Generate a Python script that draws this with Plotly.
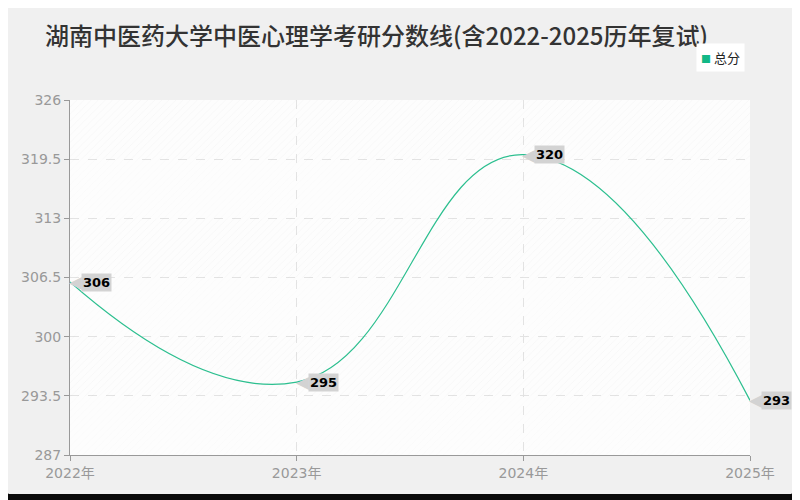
import plotly.graph_objects as go

# data
years = [2022, 2023, 2024, 2025]
scores = [306, 295, 320, 293]
year_labels = [f"{y}年" for y in years]
y_ticks = [287, 293.5, 300, 306.5, 313, 319.5, 326]
y_tick_labels = ["287", "293.5", "300", "306.5", "313", "319.5", "326"]

title = "湖南中医药大学中医心理学考研分数线(含2022-2025历年复试)"
series_name = "总分"

# the page has an 8px body margin, so the figure is 8px smaller each way
OFF = 8
W, H = 800 - OFF, 500 - OFF
M_L, M_R, M_T, M_B = 70 - OFF, 50, 100 - OFF, 45
LINE_COLOR = "#2cbf8f"
LEGEND_GREEN = "#12b886"
LABEL_BG = "#d3d3d3"
AXIS_GREY = "#999999"
CJK = "Noto Sans CJK SC"


def page_to_paper(px, py):
    """pixel position in the browser window -> paper coords of the plot area"""
    fx, fy = px - OFF, py - OFF
    pw = W - M_L - M_R
    ph = H - M_T - M_B
    return (fx - M_L) / pw, (H - M_B - fy) / ph


def p(x, y):
    ax, ay = page_to_paper(x, y)
    return f"{ax:.5f},{ay:.5f}"


def card_path(x0, y0, x1, y1, r):
    # rounded card, with the plot area cut out (evenodd) so the plot bg shows
    card = " ".join([
        f"M{p(x0 + r, y0)}", f"L{p(x1 - r, y0)}", f"Q{p(x1, y0)} {p(x1, y0 + r)}",
        f"L{p(x1, y1 - r)}", f"Q{p(x1, y1)} {p(x1 - r, y1)}",
        f"L{p(x0 + r, y1)}", f"Q{p(x0, y1)} {p(x0, y1 - r)}",
        f"L{p(x0, y0 + r)}", f"Q{p(x0, y0)} {p(x0 + r, y0)} Z",
    ])
    hole = "M0,0 L1,0 L1,1 L0,1 Z"
    return card + " " + hole


fig = go.Figure()

# faint hatched bands between the y gridlines
mid_x = (years[0] + years[-1]) / 2
span_x = years[-1] - years[0]
for i in range(len(y_ticks) - 1):
    lo, hi = y_ticks[i], y_ticks[i + 1]
    strong = (len(y_ticks) - 2 - i) % 2 == 0
    fig.add_trace(go.Bar(
        x=[mid_x], y=[hi - lo], base=[lo], width=[span_x],
        marker=dict(
            color="rgba(0,0,0,0)",
            line=dict(width=0),
            pattern=dict(
                shape="/",
                fgcolor="rgba(0,0,0,0.045)" if strong else "rgba(0,0,0,0.02)",
                bgcolor="rgba(0,0,0,0)",
                size=5,
                solidity=0.15,
            ),
        ),
        hoverinfo="skip", showlegend=False,
    ))

fig.add_trace(go.Scatter(
    x=years, y=scores, mode="lines",
    line=dict(color=LINE_COLOR, width=1.2, shape="spline", smoothing=1.3),
    name=series_name, showlegend=False,
))

# value callouts
for x, v in zip(years, scores):
    fig.add_annotation(
        x=x, y=v, text="◀", showarrow=False,
        xanchor="left", yanchor="middle", xshift=-3, yshift=0,
        font=dict(family="DejaVu Sans", size=17, color=LABEL_BG),
    )
    fig.add_annotation(
        x=x, y=v, text=f"<b>{v}</b>", showarrow=False,
        xanchor="left", yanchor="middle", xshift=11,
        bgcolor=LABEL_BG, borderpad=1,
        font=dict(family="DejaVu Sans", size=13, color="#000000"),
    )

# legend box, kept just below the end of the title
lx, ly = page_to_paper(745, 43)
fig.add_annotation(
    x=lx, y=ly, xref="paper", yref="paper", showarrow=False,
    xanchor="right", yanchor="top",
    text=f"<span style='color:{LEGEND_GREEN};font-size:10px'>■</span> {series_name}",
    bgcolor="#ffffff", borderpad=4,
    font=dict(family=CJK, size=13, color="#222222"),
)

# light card over the dark window, rounded corners
fig.add_shape(
    type="path", xref="paper", yref="paper", layer="below",
    path=card_path(5, 5, 795, 494, 6), fillrule="evenodd",
    fillcolor="#f0f0f0", line=dict(width=0),
)

fig.update_layout(
    width=W, height=H,
    margin=dict(l=M_L, r=M_R, t=M_T, b=M_B, autoexpand=False),
    paper_bgcolor="#0a0a0a",
    plot_bgcolor="#fdfdfd",
    barmode="overlay",
    showlegend=False,
    title=dict(
        text=title, x=(45 - OFF) / W, xanchor="left", xref="container",
        y=1 - (37 - OFF) / H, yanchor="middle", yref="container",
        font=dict(family=CJK, size=24, color="#333333", weight=500),
    ),
)

fig.update_xaxes(
    range=[years[0], years[-1]],
    tickvals=years, ticktext=year_labels,
    showgrid=True, gridcolor="#e3e3e3", griddash="dash", gridwidth=1,
    showline=True, linecolor=AXIS_GREY, linewidth=1,
    ticks="outside", ticklen=5, tickcolor=AXIS_GREY,
    tickfont=dict(family="DejaVu Sans, " + CJK, size=14, color=AXIS_GREY),
    zeroline=False,
)
fig.update_yaxes(
    range=[y_ticks[0], y_ticks[-1]],
    tickvals=y_ticks, ticktext=y_tick_labels,
    showgrid=True, gridcolor="#e3e3e3", griddash="dash", gridwidth=1,
    showline=True, linecolor=AXIS_GREY, linewidth=1,
    ticks="outside", ticklen=5, tickcolor=AXIS_GREY,
    tickfont=dict(family="DejaVu Sans", size=14, color=AXIS_GREY),
    zeroline=False,
)

fig.write_html("out.html")
